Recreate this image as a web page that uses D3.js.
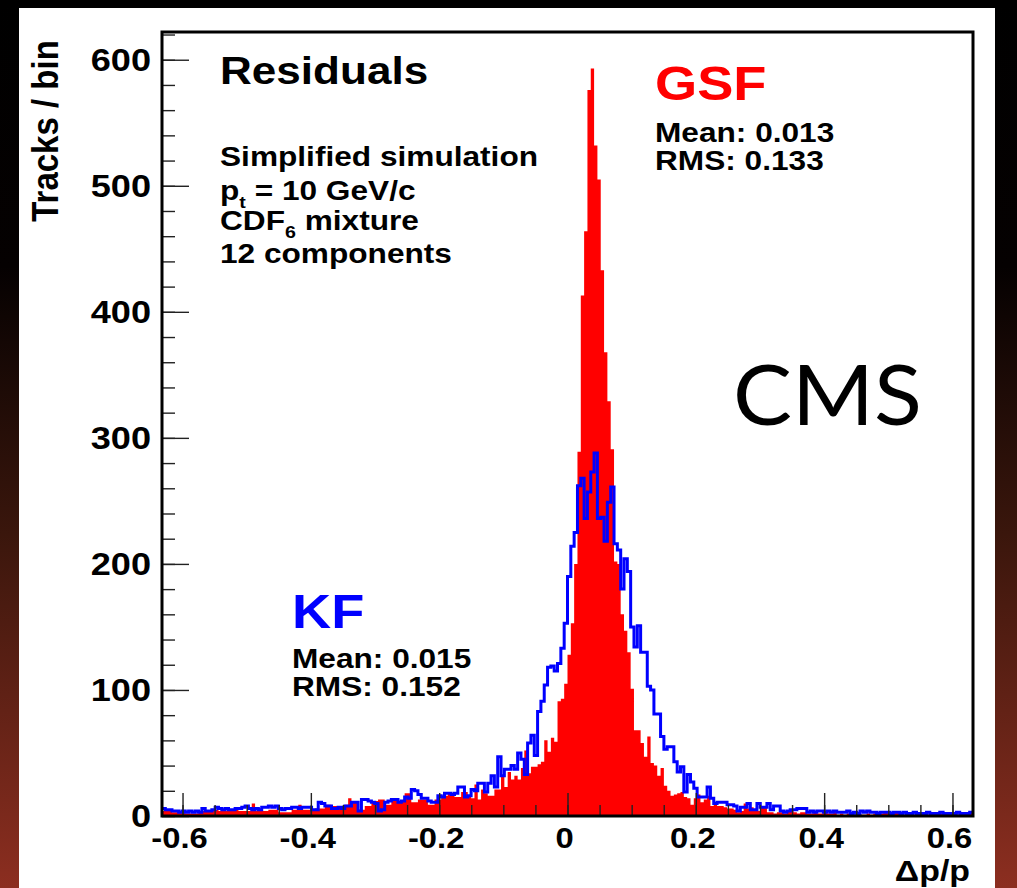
<!DOCTYPE html>
<html>
<head>
<meta charset="utf-8">
<script src="https://cdn.jsdelivr.net/npm/d3@7"></script>
<style>
html, body { margin: 0; padding: 0; background: #000; }
svg { display: block; }
text { font-family: "Liberation Sans", Arial, Helvetica, sans-serif; font-weight: bold; }
</style>
</head>
<body>
<svg id="chart" width="1017" height="888"></svg>
<script>
// histogram range and binning
const xMin = -0.632, xMax = 0.632
const nBins = 244

// KF residuals (blue outline), tracks per bin
const kf = [
    6,5,5,4,4,3,4,3,4,3,4,3,6,4,4,5,7,6,5,6,
    5,5,6,6,7,8,6,5,6,5,7,7,8,7,8,6,5,6,6,7,
    7,6,7,7,7,5,5,11,10,8,8,6,6,7,6,8,8,11,11,4,
    13,13,12,11,10,4,5,11,12,13,13,11,12,15,14,21,20,17,14,14,
    12,11,11,16,15,18,18,17,18,23,23,15,16,21,20,26,26,19,26,32,
    23,47,32,37,37,40,37,50,45,33,58,64,48,83,91,104,118,119,115,121,
    133,153,190,214,225,262,268,236,257,273,288,236,237,218,249,261,216,211,180,204,
    194,150,134,151,130,130,103,100,81,81,63,53,55,55,43,35,39,19,33,27,
    22,15,15,15,23,14,10,11,11,11,9,9,8,4,7,7,10,5,5,10,
    7,7,10,5,8,8,4,3,4,5,5,6,6,6,3,4,3,4,4,3,
    4,3,4,3,3,3,4,2,3,2,4,3,4,3,3,2,3,3,3,2,
    3,3,2,3,2,2,3,2,2,2,3,2,2,2,3,2,2,2,2,3,
    2,2,2,3
]

// GSF residuals (red filled), tracks per bin
const gsf = [
    4,4,4,3,3,3,3,2,2,2,2,4,4,4,4,5,5,4,4,4,
    4,5,5,4,4,4,4,10,4,4,4,4,5,5,5,3,3,3,3,5,
    5,9,5,5,5,5,6,6,6,9,9,8,8,8,8,9,14,12,12,5,
    5,8,8,12,12,13,13,9,9,12,12,12,12,18,18,11,11,13,13,13,
    9,9,13,13,16,16,18,18,15,15,19,19,16,14,25,13,21,18,16,16,
    21,21,32,23,35,29,32,29,38,52,34,39,39,41,43,60,51,62,59,91,
    93,105,128,153,200,289,413,464,576,593,532,505,433,368,329,291,202,200,160,147,
    130,101,68,68,58,47,63,42,40,32,38,24,20,16,17,18,19,15,14,9,
    14,17,11,13,16,8,10,8,8,7,6,6,5,3,4,10,6,7,4,4,
    8,7,3,3,2,3,3,2,4,4,3,2,3,3,2,2,3,2,2,3,
    2,2,3,1,2,1,2,2,1,2,1,1,2,1,2,1,2,3,4,2,
    3,4,2,1,1,1,1,1,1,1,1,2,2,2,2,1,1,1,1,1,
    1,1,3,4
]

const yMajor = [0, 100, 200, 300, 400, 500, 600]
const yMinor = d3.range(0, 621, 20)
const xMajor = [-0.6, -0.4, -0.2, 0, 0.2, 0.4, 0.6]
const xMinor = d3.range(-0.6, 0.601, 0.05)
const xLabels = ["-0.6", "-0.4", "-0.2", "0", "0.2", "0.4", "0.6"]
const infoLines = ["Simplified simulation", "p|t| = 10 GeV/c", "CDF|6| mixture", "12 components"]
const gsfStats = ["Mean: 0.013", "RMS: 0.133"]
const kfStats = ["Mean: 0.015", "RMS: 0.152"]

const svg = d3.select("#chart")
const SX = 1.13   // the picture is a bit wider than tall, stretch text like it

// dark red backdrop + white page
const defs = svg.append("defs")
const grad = defs.append("linearGradient").attr("id", "bg")
    .attr("x1", 0).attr("y1", 0).attr("x2", 0).attr("y2", 1)
grad.append("stop").attr("offset", "0%").attr("stop-color", "#000")
grad.append("stop").attr("offset", "30%").attr("stop-color", "#050101")
grad.append("stop").attr("offset", "60%").attr("stop-color", "#3a160c")
grad.append("stop").attr("offset", "100%").attr("stop-color", "#8c2e20")
svg.append("rect").attr("width", 1017).attr("height", 888).attr("fill", "url(#bg)")
svg.append("rect").attr("x", 19).attr("y", 8).attr("width", 976).attr("height", 880).attr("fill", "#fff")

const x = d3.scaleLinear().domain([xMin, xMax]).range([162, 973])
const y = d3.scaleLinear().domain([0, 622]).range([816, 32])

const edges = d3.range(nBins + 1).map(i => xMin + i * (xMax - xMin) / nBins)
const steps = arr => arr.map((v, i) => [edges[i], v]).concat([[edges[nBins], arr[nBins - 1]]])

const area = d3.area()
    .x(d => x(d[0]))
    .y0(y(0))
    .y1(d => y(d[1]))
    .curve(d3.curveStepAfter)

const line = d3.line()
    .x(d => x(d[0]))
    .y(d => y(d[1]))
    .curve(d3.curveStepAfter)

svg.append("path")
    .attr("d", area(steps(gsf)))
    .attr("fill", "#ff0000")

svg.append("path")
    .attr("d", line(steps(kf)))
    .attr("fill", "none")
    .attr("stroke", "#0000ff")
    .attr("stroke-width", 3)
    .attr("stroke-linejoin", "miter")

// ticks (inside the frame)
const tickAxis = (gen, ticks, size, tr) => {
    const g = svg.append("g").attr("transform", tr)
        .call(gen.tickValues(ticks).tickSize(size).tickFormat(""))
    g.select(".domain").remove()
    g.selectAll("line").attr("stroke", "#222").attr("stroke-width", 1.4)
}
tickAxis(d3.axisLeft(y), yMinor, -13, "translate(162,0)")
tickAxis(d3.axisLeft(y), yMajor, -27, "translate(162,0)")
tickAxis(d3.axisBottom(x), xMinor, -11, "translate(0,816)")
tickAxis(d3.axisBottom(x), xMajor, -23, "translate(0,816)")

svg.append("rect")
    .attr("x", 162).attr("y", 32).attr("width", 811).attr("height", 784)
    .attr("fill", "none").attr("stroke", "#000").attr("stroke-width", 3)

// text helper: writes "a|sub|b" with a lowered subscript
const label = (px, py, str, size, opts = {}) => {
    const t = svg.append("text")
        .attr("transform", `translate(${px},${py}) scale(${SX},1)`)
        .attr("text-anchor", opts.anchor || "start")
        .attr("font-size", size)
        .attr("fill", opts.color || "#000")
    str.split("|").forEach((part, i) => {
        if (!part) return
        if (i % 2) t.append("tspan").attr("font-size", size * 0.62).attr("dy", size * 0.3).text(part)
        else t.append("tspan").attr("dy", i ? -size * 0.3 : 0).text(part)
    })
    return t
}

svg.selectAll(".ylab").data(yMajor).enter().append("text")
    .attr("class", "ylab")
    .attr("transform", d => `translate(151,${y(d) + 11}) scale(${SX},1)`)
    .attr("text-anchor", "end")
    .attr("font-size", 32)
    .text(d => d)

svg.selectAll(".xlab").data(xMajor).enter().append("text")
    .attr("class", "xlab")
    .attr("transform", d => `translate(${x(d) - 3},848) scale(${SX},1)`)
    .attr("text-anchor", "middle")
    .attr("font-size", 29)
    .text((d, i) => xLabels[i])

label(970, 881, "\u0394p/p", 30, { anchor: "end" })

svg.append("text")
    .attr("transform", `translate(58,131) scale(${SX},1) rotate(-90)`)
    .attr("text-anchor", "middle")
    .attr("font-size", 33)
    .text("Tracks / bin")

label(220, 84, "Residuals", 39)
const infoY = [166, 200, 230, 263]
infoLines.forEach((s, i) => label(220, infoY[i], s, 28))

label(655, 100, "GSF", 48, { color: "#ff0000" })
gsfStats.forEach((s, i) => label(655, 142 + i * 28, s, 28))

label(292, 628, "KF", 48, { color: "#0000ff" })
kfStats.forEach((s, i) => label(292, 668 + i * 28, s, 28))

svg.append("text")
    .attr("x", 733).attr("y", 425)
    .style("font-family", "Lato, 'Open Sans', sans-serif")
    .style("font-weight", 400)
    .attr("font-size", 83)
    .attr("textLength", 189)
    .attr("lengthAdjust", "spacingAndGlyphs")
    .text("CMS")
</script>
</body>
</html>
